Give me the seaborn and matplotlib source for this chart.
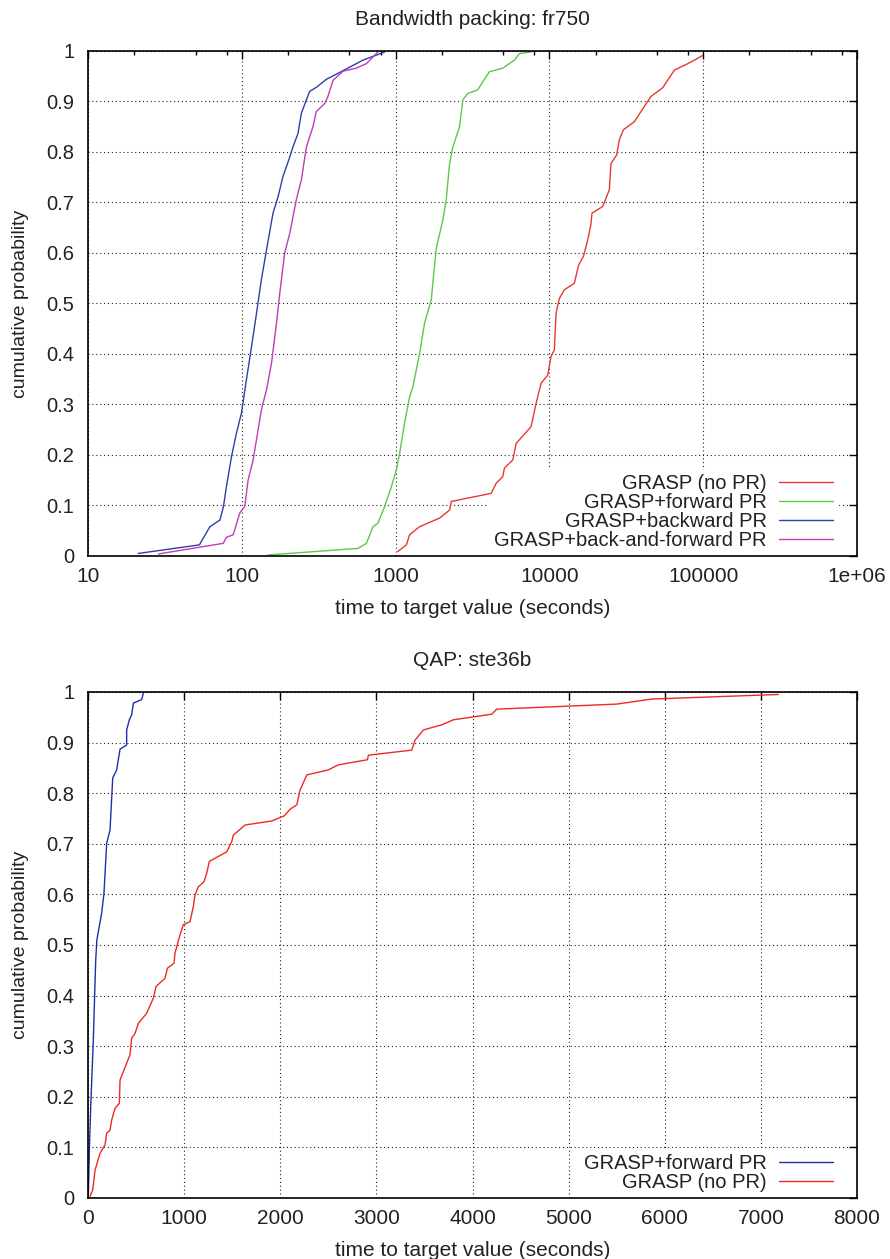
import matplotlib
matplotlib.use('Agg')
import matplotlib.pyplot as plt
import matplotlib.ticker as mticker
import seaborn as sns

# Top panel: Bandwidth packing fr750 (time-to-target, log x)
bw_nopr_t = [1035, 1175, 1233, 1432, 1932, 2243, 2302, 4180, 4508, 4973,
             5100, 5780, 6080, 7600, 8190, 8830, 9750, 10250, 10770, 11050,
             11610, 12500, 14520, 15490, 16630, 17750, 18630, 18920, 22200, 24530,
             25140, 27350, 28500, 30260, 35680, 45730, 54430, 64930, 83200, 99100]
bw_nopr_p = [0.009, 0.022, 0.042, 0.058, 0.075, 0.091, 0.108, 0.124, 0.144, 0.157,
             0.174, 0.19, 0.223, 0.256, 0.302, 0.342, 0.358, 0.395, 0.408, 0.481,
             0.51, 0.527, 0.54, 0.576, 0.593, 0.626, 0.657, 0.679, 0.692, 0.725,
             0.777, 0.794, 0.824, 0.844, 0.86, 0.91, 0.927, 0.962, 0.978, 0.991]

bw_fwd_t = [148, 569, 646, 713, 767, 849, 938, 1010, 1062, 1143,
            1233, 1295, 1432, 1542, 1705, 1837, 2028, 2133, 2243, 2356,
            2604, 2737, 2946, 3420, 3687, 4075, 4973, 5929, 6388, 7600]
bw_fwd_p = [0.002, 0.015, 0.025, 0.058, 0.065, 0.098, 0.137, 0.17, 0.203, 0.263,
            0.315, 0.335, 0.401, 0.461, 0.507, 0.609, 0.665, 0.705, 0.777, 0.81,
            0.85, 0.903, 0.916, 0.923, 0.939, 0.959, 0.966, 0.982, 0.995, 0.998]

bw_bwd_t = [21.2, 53, 62, 72, 76, 79.4, 85.7, 92.4, 99.5, 107,
            115.6, 124.5, 134, 144.7, 159.6, 172, 185, 205, 215, 232,
            244, 276, 305, 355, 455, 614, 849]
bw_bwd_p = [0.005, 0.022, 0.058, 0.071, 0.098, 0.137, 0.197, 0.244, 0.283, 0.348,
            0.414, 0.48, 0.547, 0.606, 0.679, 0.711, 0.751, 0.79, 0.81, 0.837,
            0.877, 0.92, 0.928, 0.944, 0.961, 0.982, 0.998]

bw_bf_t = [28.7, 75.7, 79.4, 87.9, 97, 104.5, 109.8, 118.4, 124.5, 134,
           144.7, 156, 168, 176.5, 190, 205, 226, 244, 263, 290,
           305, 346, 363, 392, 455, 556, 646, 767]
bw_bf_p = [0.004, 0.025, 0.037, 0.042, 0.085, 0.098, 0.15, 0.19, 0.23, 0.289,
           0.329, 0.382, 0.461, 0.52, 0.6, 0.639, 0.705, 0.745, 0.81, 0.85,
           0.88, 0.896, 0.91, 0.942, 0.96, 0.966, 0.975, 0.998]

# Bottom panel: QAP ste36b (linear x)
qap_fwd_t = [3, 15, 28, 55, 80, 92, 142, 166, 194, 229,
             257, 298, 333, 402, 402, 430, 454, 472, 558, 575]
qap_fwd_p = [0.003, 0.1, 0.18, 0.312, 0.47, 0.51, 0.563, 0.602, 0.701, 0.727,
             0.83, 0.846, 0.887, 0.895, 0.925, 0.945, 0.955, 0.978, 0.985, 0.997]

qap_nopr_t = [21, 49, 73, 125, 177, 194, 229, 246, 281, 326,
              333, 437, 454, 489, 524, 610, 680, 708, 801, 826,
              895, 905, 957, 992, 1061, 1096, 1113, 1148, 1207, 1235,
              1262, 1443, 1495, 1512, 1634, 1911, 2040, 2102, 2172, 2206,
              2276, 2500, 2605, 2907, 2917, 3368, 3403, 3490, 3680, 3802,
              4200, 4252, 5501, 5866, 7183]
qap_nopr_p = [0.003, 0.016, 0.055, 0.088, 0.105, 0.128, 0.134, 0.154, 0.177, 0.187,
              0.233, 0.283, 0.316, 0.325, 0.345, 0.365, 0.395, 0.418, 0.434, 0.454,
              0.464, 0.484, 0.52, 0.54, 0.546, 0.576, 0.599, 0.615, 0.625, 0.642,
              0.665, 0.684, 0.704, 0.717, 0.737, 0.745, 0.755, 0.768, 0.777, 0.806,
              0.836, 0.846, 0.856, 0.866, 0.875, 0.885, 0.905, 0.925, 0.935, 0.945,
              0.956, 0.966, 0.976, 0.986, 0.995]

top_xticks = [10, 100, 1000, 10000, 100000, 1000000]
top_xticklabels = ['10', '100', '1000', '10000', '100000', '1e+06']
bot_xticks = [0, 1000, 2000, 3000, 4000, 5000, 6000, 7000, 8000]
yticks = [0, 0.1, 0.2, 0.3, 0.4, 0.5, 0.6, 0.7, 0.8, 0.9, 1]
yticklabels = ['0', '0.1', '0.2', '0.3', '0.4', '0.5', '0.6', '0.7', '0.8', '0.9', '1']

sns.set_theme(style='white')
plt.rcParams['font.family'] = ['Liberation Sans', 'DejaVu Sans']
plt.rcParams['axes.edgecolor'] = 'black'
plt.rcParams['axes.linewidth'] = 1.2

fig = plt.figure(figsize=(8.9, 12.59), dpi=100)
ax1 = fig.add_axes([0.0989, 0.5584, 0.8640, 0.4011])
ax2 = fig.add_axes([0.0989, 0.0485, 0.8640, 0.4019])


def style_axes(ax, title):
    ax.set_title(title, fontsize=15, pad=19, color='#222222')
    ax.set_xlabel('time to target value (seconds)', fontsize=15, labelpad=9, color='#222222')
    ax.set_ylabel('cumulative probability', fontsize=14, labelpad=12, color='#222222')
    ax.set_ylim(0, 1)
    ax.set_yticks(yticks)
    ax.set_yticklabels(yticklabels)
    ax.tick_params(axis='x', labelsize=15, pad=8, colors='#222222')
    ax.tick_params(axis='y', labelsize=14.5, pad=10, colors='#222222')
    ax.tick_params(which='both', direction='in', top=True, right=True,
                   color='black', width=1)
    ax.tick_params(which='major', length=6)
    ax.tick_params(which='minor', length=3)
    ax.grid(True, which='major', color='#222222', linestyle=(0, (1, 2.5)), linewidth=0.8)
    ax.set_axisbelow(True)
    for sp in ax.spines.values():
        sp.set_color('black')
        sp.set_linewidth(1.2)


def add_legend(ax):
    handles, labels = ax.get_legend_handles_labels()
    leg = ax.legend(handles, labels, loc='lower right', bbox_to_anchor=(0.977, 0.0),
                    markerfirst=False, frameon=True, fancybox=False, edgecolor='none',
                    facecolor='white', framealpha=1, fontsize=14.5, handlelength=2.7,
                    handletextpad=0.6, labelspacing=0.0, borderaxespad=0.0, borderpad=0.3)
    leg.set_zorder(1)
    for t in leg.get_texts():
        t.set_color('#222222')
    return leg


# --- top chart ---
top_series = [
    ('GRASP (no PR)', bw_nopr_t, bw_nopr_p, '#e8392e'),
    ('GRASP+forward PR', bw_fwd_t, bw_fwd_p, '#5cc84a'),
    ('GRASP+backward PR', bw_bwd_t, bw_bwd_p, '#2f3fa6'),
    ('GRASP+back-and-forward PR', bw_bf_t, bw_bf_p, '#c03cb8'),
]
for name, t, p, c in top_series:
    sns.lineplot(x=t, y=p, ax=ax1, color=c, linewidth=1.0, label=name,
                 estimator=None, sort=False)

ax1.set_xscale('log')
ax1.set_xlim(10, 1000000)
ax1.xaxis.set_major_locator(mticker.FixedLocator(top_xticks))
ax1.xaxis.set_major_formatter(mticker.FixedFormatter(top_xticklabels))
ax1.xaxis.set_minor_locator(mticker.LogLocator(base=10, subs=(2, 5, 8)))
ax1.xaxis.set_minor_formatter(mticker.NullFormatter())
style_axes(ax1, 'Bandwidth packing: fr750')
add_legend(ax1)

# --- bottom chart ---
bot_series = [
    ('GRASP+forward PR', qap_fwd_t, qap_fwd_p, '#1f2fa8'),
    ('GRASP (no PR)', qap_nopr_t, qap_nopr_p, '#ee2a22'),
]
for name, t, p, c in bot_series:
    sns.lineplot(x=t, y=p, ax=ax2, color=c, linewidth=1.0, label=name,
                 estimator=None, sort=False)

ax2.set_xlim(0, 8000)
ax2.set_xticks(bot_xticks)
ax2.set_xticklabels([str(v) for v in bot_xticks])
ax2.minorticks_off()
style_axes(ax2, 'QAP: ste36b')
add_legend(ax2)

fig.savefig('out.png', dpi=100)
